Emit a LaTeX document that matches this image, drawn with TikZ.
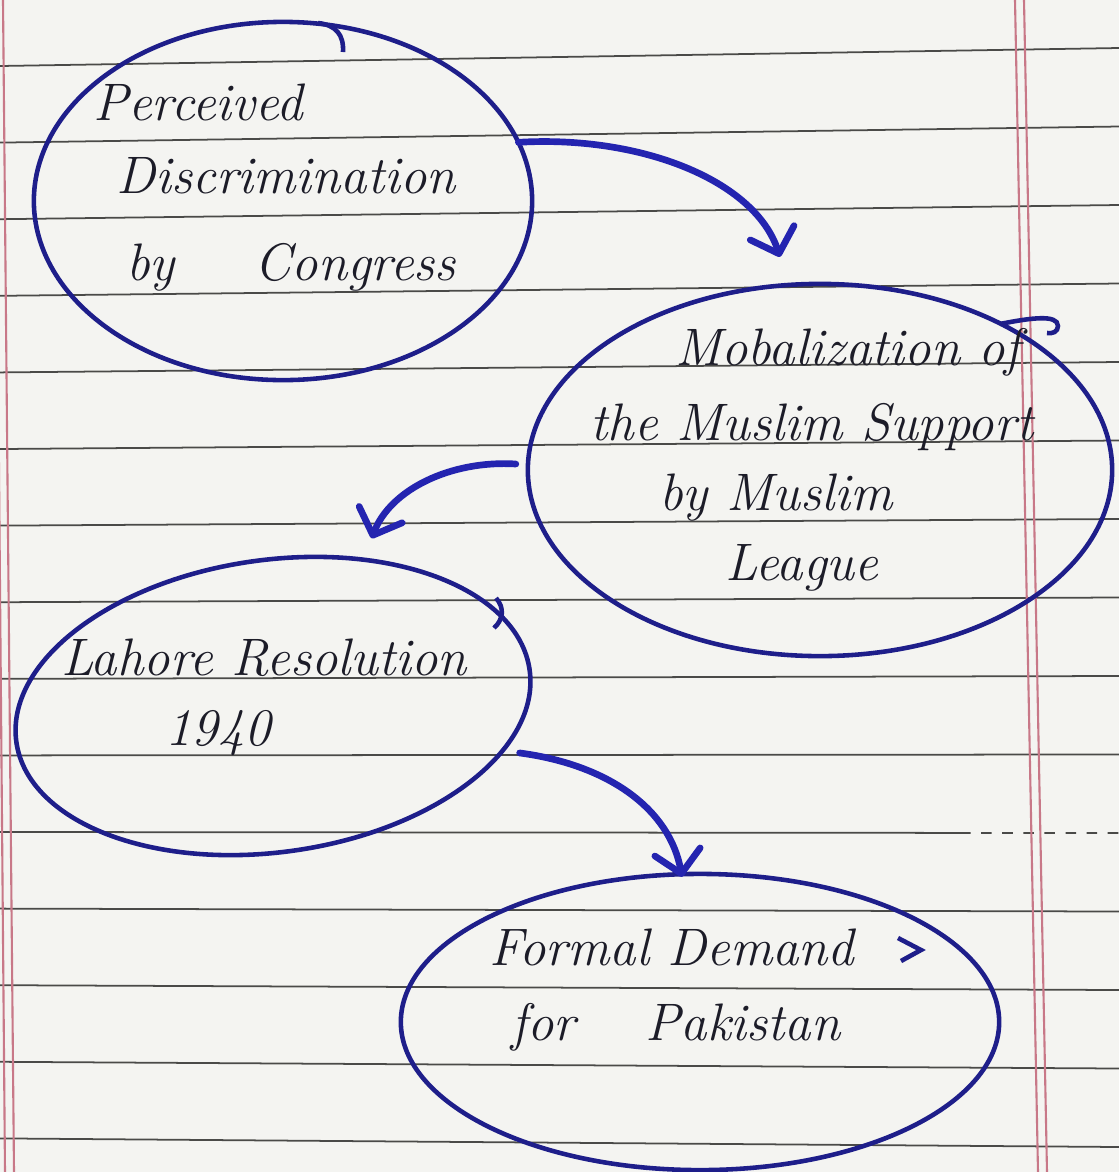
\documentclass[tikz,border=0pt]{standalone}
\usepackage{tikz}
\usetikzlibrary{shapes.geometric,arrows.meta}

\definecolor{paper}{HTML}{F4F4F1}
\definecolor{rule}{HTML}{4A4A48}
\definecolor{margin}{HTML}{C87888}
\definecolor{ink}{HTML}{1E1E8A}
\definecolor{marker}{HTML}{2424B0}
\definecolor{pencil}{HTML}{1C1C28}

\begin{document}
\begin{tikzpicture}[x=0.01cm, y=-0.01cm,
    bubble/.style={draw=ink, ellipse, line width=1.3pt, inner sep=0pt, outer sep=0pt},
    hand/.style={text=pencil, font=\fontsize{15}{18}\selectfont\itshape, anchor=base, inner sep=0pt},
    flow/.style={draw=marker, line width=1.9pt, line cap=round,
        -{Straight Barb[length=2.2mm, width=4.6mm, round]}},
    ruling/.style={draw=rule, line width=0.5pt},
    redline/.style={draw=margin, line width=0.6pt}]
    \fill [paper] (0,0) rectangle (1119,1172);
    \useasboundingbox (0,0) rectangle (1119,1172);

    % ruled paper
    \foreach \k in {0,...,9,11,12,13,14}
        \draw [ruling] (0,{66+76.6*\k}) -- (1119,{48+78.5*\k});
    \draw [ruling] (0,832) -- (960,832.9);
    \draw [ruling, dashed] (960,832.9) -- (1119,833);
    \draw [redline] (1015,0) -- (1038,1172);
    \draw [redline] (1024,0) -- (1047,1172);
    \draw [redline] (-5,0) -- (5,1172);
    \draw [redline] (3,0) -- (14,1172);

    % bubbles
    \node [bubble, minimum width=4.98cm, minimum height=3.58cm] (cause) at (283,201) {};
    \node [bubble, minimum width=5.84cm, minimum height=3.72cm] (league) at (820,470) {};
    \node [bubble, minimum width=5.18cm, minimum height=2.92cm, rotate=8] (lahore) at (273,706) {};
    \node [bubble, minimum width=5.98cm, minimum height=2.96cm] (demand) at (700,1022) {};

    % pen hooks where the rings close
    \draw [ink, line width=1.3pt] (318,23) .. controls (336,25) and (344,35) .. (343,52);
    \draw [ink, line width=1.3pt] (1000,324) .. controls (1030,318) and (1058,314) .. (1058,326)
        .. controls (1058,332) and (1052,334) .. (1047,333);
    \draw [ink, line width=1.3pt] (496,598) .. controls (505,608) and (503,620) .. (494,628);
    \draw [ink, line width=1.3pt] (898,938) -- (921,950) -- (901,961);

    % text
    \node [hand] (perc) at (198,120) {Perceived};
    \node [hand] (disc) at (286,193) {Discrimination};
    \node [hand] (cong) at (291,280) {by\hspace{0.8cm}Congress};
    \node [hand] (mob) at (848,365) {Mobalization of};
    \node [hand] (supp) at (812,440) {the Muslim Support};
    \node [hand] (bym) at (776,510) {by Muslim};
    \node [hand] (leag) at (802,580) {League};
    \node [hand] (lres) at (264,675) {Lahore Resolution};
    \node [hand] (year) at (218,745) {1940};
    \node [hand] (fdem) at (672,965) {Formal Demand};
    \node [hand] (fpak) at (676,1040) {for\hspace{0.7cm}Pakistan};

    % arrows
    \draw [flow] (cause.14) .. controls (640,135) and (755,180) .. ([shift={(-40,-27)}]league.north);
    \draw [flow] ([shift={(-12,-6)}]league.west) .. controls (450,460) and (390,490) .. ([shift={(119,-23)}]lahore.north);
    \draw [flow] ([shift={(-10,83)}]lahore.east) .. controls (610,765) and (670,810) .. ([shift={(-18,3)}]demand.north);
\end{tikzpicture}
\end{document}
